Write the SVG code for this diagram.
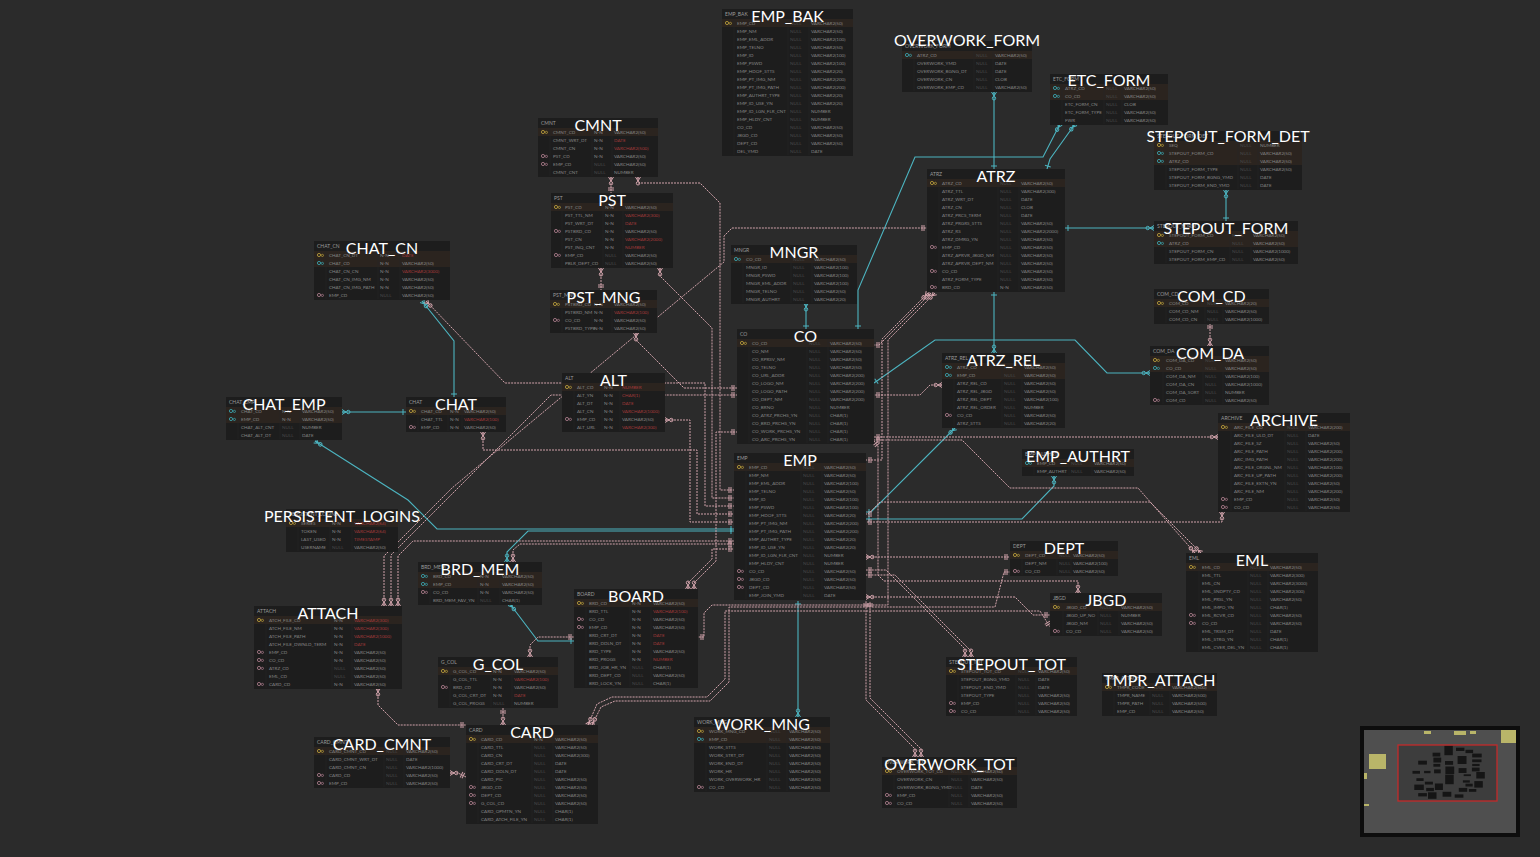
<svg xmlns="http://www.w3.org/2000/svg" width="1540" height="857" viewBox="0 0 1540 857">
<style>
.bg{fill:#1d1d1d}
.pk{fill:#2b241f}
.sep{stroke:#262626;stroke-width:.7;fill:none}
.hd{font:5px Lato,"Noto Sans",sans-serif;fill:#9a9a9a}
.c{font:4.6px Lato,"Noto Sans",sans-serif;fill:#868686}
.nl{fill:#484848}
.rd{fill:#a33a3a}
.ttl{font:16px Lato,"Noto Sans",sans-serif;fill:#ffffff;text-anchor:middle}
.ky{color:#b3983a}.kf{color:#a47786}.kt{color:#3a9fa8}
.p{fill:none;stroke:#d0a2aa;stroke-width:1;stroke-dasharray:2 1;marker-start:url(#cp);marker-end:url(#bp)}
.t{fill:none;stroke:#4cb4c0;stroke-width:1.1;marker-start:url(#ct);marker-end:url(#bt)}
.mm{fill:#151515}
</style>
<defs>
<symbol id="k" viewBox="0 0 9 8"><circle cx="3" cy="4" r="1.6" fill="none" stroke="currentColor" stroke-width=".9"/><circle cx="6.4" cy="4.4" r="1.1" fill="none" stroke="currentColor" stroke-width=".8"/></symbol>
<marker id="bp" viewBox="-8 -5 10 10" refX="0" refY="0" markerWidth="10" markerHeight="10" markerUnits="userSpaceOnUse" orient="auto"><path d="M-3,-3V3M-5,-3V3" stroke="#d0a2aa" stroke-width="1" fill="none"/></marker>
<marker id="cp" viewBox="-10 -5 12 10" refX="0" refY="0" markerWidth="12" markerHeight="10" markerUnits="userSpaceOnUse" orient="auto-start-reverse"><path d="M-4,0L0,-2.5M-4,0L0,2.5M-4,0H0" stroke="#d0a2aa" stroke-width="1" fill="none"/><circle cx="-6.3" cy="0" r="1.7" stroke="#d0a2aa" stroke-width="1" fill="none"/></marker>
<marker id="bt" viewBox="-8 -5 10 10" refX="0" refY="0" markerWidth="10" markerHeight="10" markerUnits="userSpaceOnUse" orient="auto"><path d="M-3,-3V3" stroke="#4cb4c0" stroke-width="1" fill="none"/></marker>
<marker id="ct" viewBox="-10 -5 12 10" refX="0" refY="0" markerWidth="12" markerHeight="10" markerUnits="userSpaceOnUse" orient="auto-start-reverse"><path d="M-4,0L0,-2.5M-4,0L0,2.5M-4,0H0" stroke="#4cb4c0" stroke-width="1" fill="none"/><circle cx="-6.3" cy="0" r="1.7" stroke="#4cb4c0" stroke-width="1" fill="none"/></marker>
</defs>
<rect width="1540" height="857" fill="#2b2b2b"/>

<g id="connectors">
<path class="t" d="M422,301L454,341V397"/>
<path class="t" d="M342,412H406"/>
<path class="t" d="M315,441L408,500L437,529H734"/>
<path class="t" d="M510,604L538,641H574"/>
<path class="t" d="M798,717V601"/>
<path class="t" d="M806,303V329"/>
<path class="t" d="M1075,124L1050,159L1047,169"/>
<path class="t" d="M1060,124L1043,157H915L858,290V329"/>
<path class="t" d="M994,92V169"/>
<path class="t" d="M1154,228H1065"/>
<path class="t" d="M1226,190V221"/>
<path class="t" d="M994,353V292"/>
<path class="t" d="M1150,373H1107L1075,340H935L874,383"/>
<path class="t" d="M955,428L871,512H866"/>
<path class="t" d="M1054,476V486L1022,519H866"/>
<path class="t" d="M507,562V552L528,531H734"/>
<path class="p" d="M611,177V193"/>
<path class="p" d="M638,177V183H700L720,203V490H734"/>
<path class="p" d="M660,268V276L712,328V498H734"/>
<path class="p" d="M601,268V290"/>
<path class="p" d="M636,333V340L684,388H737"/>
<path class="p" d="M426,301L505,383H705V506H734"/>
<path class="p" d="M483,432V450H697V514H734"/>
<path class="p" d="M665,420H690V522H734"/>
<path class="p" d="M398,606V556L413,541H734"/>
<path class="p" d="M391,606V555L453,493L551,395H737"/>
<path class="p" d="M384,606V556L452,488L724,262V236L732,228H927"/>
<path class="p" d="M378,688V705L398,725H466"/>
<path class="p" d="M513,562V550L520,544H734"/>
<path class="p" d="M530,657V645L538,637H574"/>
<path class="p" d="M503,725V708"/>
<path class="p" d="M450,773H458L466,777"/>
<path class="p" d="M588,725L597,704L612,697H707L725,679V611H1040L1050,627"/>
<path class="p" d="M592,725L601,707L615,701H710L729,682V607H995L1004,572H1010"/>
<path class="p" d="M866,557H1010"/>
<path class="p" d="M866,597H1015L1033,615H1050"/>
<path class="p" d="M1078,593V581H884L878,575V446L874,441"/>
<path class="p" d="M1218,437H874"/>
<path class="p" d="M1195,553L1138,488H1010L962,440H874"/>
<path class="p" d="M1222,512V522H866"/>
<path class="p" d="M1201,553L1150,502H880L868,514H866"/>
<path class="p" d="M942,385H930L920,395H874"/>
<path class="p" d="M931,293L879,345H874"/>
<path class="p" d="M928,293L882,339V460H866"/>
<path class="p" d="M935,293L888,340V605H712L704,613V637H698"/>
<path class="p" d="M965,657V649L886,570H866"/>
<path class="p" d="M971,657V651L895,575H866"/>
<path class="p" d="M915,757V749L866,700V601"/>
<path class="p" d="M921,757V749L870,698V601"/>
<path class="p" d="M1210,346V323"/>
<path class="p" d="M688,589V583L712,559V549H734"/>
<path class="p" d="M694,589V583L716,561V432H737"/>
</g>

<g id="EMP_BAK" transform="translate(722,9)">
<rect class="bg" width="131" height="147"/><rect class="pk" y="10" width="131" height="8"/>
<path class="sep" d="M12 10V146M66 10V146M87 10V146"/>
<text class="hd" x="3" y="7">EMP_BAK</text>
<use href="#k" class="ky" x="2" y="10" width="9" height="8"/>
<text class="c" x="15" y="16">EMP_CD<tspan x="15" dy="8">EMP_NM</tspan><tspan x="15" dy="8">EMP_EML_ADDR</tspan><tspan x="15" dy="8">EMP_TELNO</tspan><tspan x="15" dy="8">EMP_ID</tspan><tspan x="15" dy="8">EMP_PSWD</tspan><tspan x="15" dy="8">EMP_HDOF_STTS</tspan><tspan x="15" dy="8">EMP_PT_IMG_NM</tspan><tspan x="15" dy="8">EMP_PT_IMG_PATH</tspan><tspan x="15" dy="8">EMP_AUTHRT_TYPE</tspan><tspan x="15" dy="8">EMP_ID_USE_YN</tspan><tspan x="15" dy="8">EMP_ID_LGN_FLR_CNT</tspan><tspan x="15" dy="8">EMP_HLDY_CNT</tspan><tspan x="15" dy="8">CO_CD</tspan><tspan x="15" dy="8">JBGD_CD</tspan><tspan x="15" dy="8">DEPT_CD</tspan><tspan x="15" dy="8">DEL_YMD</tspan></text>
<text class="c nl" x="68" y="16">NULL<tspan x="68" dy="8">NULL</tspan><tspan x="68" dy="8">NULL</tspan><tspan x="68" dy="8">NULL</tspan><tspan x="68" dy="8">NULL</tspan><tspan x="68" dy="8">NULL</tspan><tspan x="68" dy="8">NULL</tspan><tspan x="68" dy="8">NULL</tspan><tspan x="68" dy="8">NULL</tspan><tspan x="68" dy="8">NULL</tspan><tspan x="68" dy="8">NULL</tspan><tspan x="68" dy="8">NULL</tspan><tspan x="68" dy="8">NULL</tspan><tspan x="68" dy="8">NULL</tspan><tspan x="68" dy="8">NULL</tspan><tspan x="68" dy="8">NULL</tspan><tspan x="68" dy="8">NULL</tspan></text>
<text class="c" x="89" y="16">VARCHAR2(50)<tspan x="89" dy="8">VARCHAR2(50)</tspan><tspan x="89" dy="8">VARCHAR2(100)</tspan><tspan x="89" dy="8">VARCHAR2(50)</tspan><tspan x="89" dy="8">VARCHAR2(100)</tspan><tspan x="89" dy="8">VARCHAR2(100)</tspan><tspan x="89" dy="8">VARCHAR2(20)</tspan><tspan x="89" dy="8">VARCHAR2(200)</tspan><tspan x="89" dy="8">VARCHAR2(200)</tspan><tspan x="89" dy="8">VARCHAR2(20)</tspan><tspan x="89" dy="8">VARCHAR2(20)</tspan><tspan x="89" dy="8">NUMBER</tspan><tspan x="89" dy="8">NUMBER</tspan><tspan x="89" dy="8">VARCHAR2(50)</tspan><tspan x="89" dy="8">VARCHAR2(50)</tspan><tspan x="89" dy="8">VARCHAR2(50)</tspan><tspan x="89" dy="8">DATE</tspan></text>
<text class="ttl" x="65.5" y="13">EMP_BAK</text>
</g>

<g id="EMP" transform="translate(734,453)">
<rect class="bg" width="132" height="147"/><rect class="pk" y="10" width="132" height="8"/>
<path class="sep" d="M12 10V146M67 10V146M88 10V146"/>
<text class="hd" x="3" y="7">EMP</text>
<use href="#k" class="ky" x="2" y="10" width="9" height="8"/>
<use href="#k" class="kf" x="2" y="114" width="9" height="8"/>
<use href="#k" class="kf" x="2" y="122" width="9" height="8"/>
<use href="#k" class="kf" x="2" y="130" width="9" height="8"/>
<text class="c" x="15" y="16">EMP_CD<tspan x="15" dy="8">EMP_NM</tspan><tspan x="15" dy="8">EMP_EML_ADDR</tspan><tspan x="15" dy="8">EMP_TELNO</tspan><tspan x="15" dy="8">EMP_ID</tspan><tspan x="15" dy="8">EMP_PSWD</tspan><tspan x="15" dy="8">EMP_HDOF_STTS</tspan><tspan x="15" dy="8">EMP_PT_IMG_NM</tspan><tspan x="15" dy="8">EMP_PT_IMG_PATH</tspan><tspan x="15" dy="8">EMP_AUTHRT_TYPE</tspan><tspan x="15" dy="8">EMP_ID_USE_YN</tspan><tspan x="15" dy="8">EMP_ID_LGN_FLR_CNT</tspan><tspan x="15" dy="8">EMP_HLDY_CNT</tspan><tspan x="15" dy="8">CO_CD</tspan><tspan x="15" dy="8">JBGD_CD</tspan><tspan x="15" dy="8">DEPT_CD</tspan><tspan x="15" dy="8">EMP_JOIN_YMD</tspan></text>
<text class="c nl" x="69" y="16">NULL<tspan x="69" dy="8">NULL</tspan><tspan x="69" dy="8">NULL</tspan><tspan x="69" dy="8">NULL</tspan><tspan x="69" dy="8">NULL</tspan><tspan x="69" dy="8">NULL</tspan><tspan x="69" dy="8">NULL</tspan><tspan x="69" dy="8">NULL</tspan><tspan x="69" dy="8">NULL</tspan><tspan x="69" dy="8">NULL</tspan><tspan x="69" dy="8">NULL</tspan><tspan x="69" dy="8">NULL</tspan><tspan x="69" dy="8">NULL</tspan><tspan x="69" dy="8">NULL</tspan><tspan x="69" dy="8">NULL</tspan><tspan x="69" dy="8">NULL</tspan><tspan x="69" dy="8">NULL</tspan></text>
<text class="c" x="90" y="16">VARCHAR2(50)<tspan x="90" dy="8">VARCHAR2(50)</tspan><tspan x="90" dy="8">VARCHAR2(100)</tspan><tspan x="90" dy="8">VARCHAR2(50)</tspan><tspan x="90" dy="8">VARCHAR2(100)</tspan><tspan x="90" dy="8">VARCHAR2(100)</tspan><tspan x="90" dy="8">VARCHAR2(20)</tspan><tspan x="90" dy="8">VARCHAR2(200)</tspan><tspan x="90" dy="8">VARCHAR2(200)</tspan><tspan x="90" dy="8">VARCHAR2(20)</tspan><tspan x="90" dy="8">VARCHAR2(20)</tspan><tspan x="90" dy="8">NUMBER</tspan><tspan x="90" dy="8">NUMBER</tspan><tspan x="90" dy="8">VARCHAR2(50)</tspan><tspan x="90" dy="8">VARCHAR2(50)</tspan><tspan x="90" dy="8">VARCHAR2(50)</tspan><tspan x="90" dy="8">DATE</tspan></text>
<text class="ttl" x="66" y="13">EMP</text>
</g>

<g id="CO" transform="translate(737,329)">
<rect class="bg" width="137" height="115"/><rect class="pk" y="10" width="137" height="8"/>
<path class="sep" d="M12 10V114M70 10V114M91 10V114"/>
<text class="hd" x="3" y="7">CO</text>
<use href="#k" class="ky" x="2" y="10" width="9" height="8"/>
<text class="c" x="15" y="16">CO_CD<tspan x="15" dy="8">CO_NM</tspan><tspan x="15" dy="8">CO_RPRSV_NM</tspan><tspan x="15" dy="8">CO_TELNO</tspan><tspan x="15" dy="8">CO_URL_ADDR</tspan><tspan x="15" dy="8">CO_LOGO_NM</tspan><tspan x="15" dy="8">CO_LOGO_PATH</tspan><tspan x="15" dy="8">CO_DEPT_NM</tspan><tspan x="15" dy="8">CO_BRNO</tspan><tspan x="15" dy="8">CO_ATRZ_PRCHS_YN</tspan><tspan x="15" dy="8">CO_BRD_PRCHS_YN</tspan><tspan x="15" dy="8">CO_WORK_PRCHS_YN</tspan><tspan x="15" dy="8">CO_ARC_PRCHS_YN</tspan></text>
<text class="c nl" x="72" y="16">NULL<tspan x="72" dy="8">NULL</tspan><tspan x="72" dy="8">NULL</tspan><tspan x="72" dy="8">NULL</tspan><tspan x="72" dy="8">NULL</tspan><tspan x="72" dy="8">NULL</tspan><tspan x="72" dy="8">NULL</tspan><tspan x="72" dy="8">NULL</tspan><tspan x="72" dy="8">NULL</tspan><tspan x="72" dy="8">NULL</tspan><tspan x="72" dy="8">NULL</tspan><tspan x="72" dy="8">NULL</tspan><tspan x="72" dy="8">NULL</tspan></text>
<text class="c" x="93" y="16">VARCHAR2(50)<tspan x="93" dy="8">VARCHAR2(50)</tspan><tspan x="93" dy="8">VARCHAR2(50)</tspan><tspan x="93" dy="8">VARCHAR2(50)</tspan><tspan x="93" dy="8">VARCHAR2(200)</tspan><tspan x="93" dy="8">VARCHAR2(200)</tspan><tspan x="93" dy="8">VARCHAR2(200)</tspan><tspan x="93" dy="8">VARCHAR2(200)</tspan><tspan x="93" dy="8">NUMBER</tspan><tspan x="93" dy="8">CHAR(1)</tspan><tspan x="93" dy="8">CHAR(1)</tspan><tspan x="93" dy="8">CHAR(1)</tspan><tspan x="93" dy="8">CHAR(1)</tspan></text>
<text class="ttl" x="68.5" y="13">CO</text>
</g>

<g id="MNGR" transform="translate(731,245)">
<rect class="bg" width="126" height="59"/><rect class="pk" y="10" width="126" height="8"/>
<path class="sep" d="M12 10V58M60 10V58M81 10V58"/>
<text class="hd" x="3" y="7">MNGR</text>
<use href="#k" class="kt" x="2" y="10" width="9" height="8"/>
<text class="c" x="15" y="16">CO_CD<tspan x="15" dy="8">MNGR_ID</tspan><tspan x="15" dy="8">MNGR_PSWD</tspan><tspan x="15" dy="8">MNGR_EML_ADDR</tspan><tspan x="15" dy="8">MNGR_TELNO</tspan><tspan x="15" dy="8">MNGR_AUTHRT</tspan></text>
<text class="c nl" x="62" y="16">NULL<tspan x="62" dy="8">NULL</tspan><tspan x="62" dy="8">NULL</tspan><tspan x="62" dy="8">NULL</tspan><tspan x="62" dy="8">NULL</tspan><tspan x="62" dy="8">NULL</tspan></text>
<text class="c" x="83" y="16">VARCHAR2(50)<tspan x="83" dy="8">VARCHAR2(100)</tspan><tspan x="83" dy="8">VARCHAR2(100)</tspan><tspan x="83" dy="8">VARCHAR2(100)</tspan><tspan x="83" dy="8">VARCHAR2(50)</tspan><tspan x="83" dy="8">VARCHAR2(20)</tspan></text>
<text class="ttl" x="63" y="13">MNGR</text>
</g>

<g id="ATRZ" transform="translate(927,169)">
<rect class="bg" width="138" height="123"/><rect class="pk" y="10" width="138" height="8"/>
<path class="sep" d="M12 10V122M71 10V122M92 10V122"/>
<text class="hd" x="3" y="7">ATRZ</text>
<use href="#k" class="ky" x="2" y="10" width="9" height="8"/>
<use href="#k" class="kf" x="2" y="74" width="9" height="8"/>
<use href="#k" class="kf" x="2" y="98" width="9" height="8"/>
<use href="#k" class="kf" x="2" y="114" width="9" height="8"/>
<text class="c" x="15" y="16">ATRZ_CD<tspan x="15" dy="8">ATRZ_TTL</tspan><tspan x="15" dy="8">ATRZ_WRT_DT</tspan><tspan x="15" dy="8">ATRZ_CN</tspan><tspan x="15" dy="8">ATRZ_PRCS_TERM</tspan><tspan x="15" dy="8">ATRZ_PRGRS_STTS</tspan><tspan x="15" dy="8">ATRZ_RS</tspan><tspan x="15" dy="8">ATRZ_DMRG_YN</tspan><tspan x="15" dy="8">EMP_CD</tspan><tspan x="15" dy="8">ATRZ_APRVR_JBGD_NM</tspan><tspan x="15" dy="8">ATRZ_APRVR_DEPT_NM</tspan><tspan x="15" dy="8">CO_CD</tspan><tspan x="15" dy="8">ATRZ_FORM_TYPE</tspan><tspan x="15" dy="8">BRD_CD</tspan></text>
<text class="c nl" x="73" y="16">NULL<tspan x="73" dy="8">NULL</tspan><tspan x="73" dy="8">NULL</tspan><tspan x="73" dy="8">NULL</tspan><tspan x="73" dy="8">NULL</tspan><tspan x="73" dy="8">NULL</tspan><tspan x="73" dy="8">NULL</tspan><tspan x="73" dy="8">NULL</tspan><tspan x="73" dy="8">NULL</tspan><tspan x="73" dy="8">NULL</tspan><tspan x="73" dy="8">NULL</tspan><tspan x="73" dy="8">NULL</tspan><tspan x="73" dy="8">NULL</tspan><tspan x="73" dy="8" class="c">N-N</tspan></text>
<text class="c" x="94" y="16">VARCHAR2(50)<tspan x="94" dy="8">VARCHAR2(300)</tspan><tspan x="94" dy="8">DATE</tspan><tspan x="94" dy="8">CLOB</tspan><tspan x="94" dy="8">DATE</tspan><tspan x="94" dy="8">VARCHAR2(50)</tspan><tspan x="94" dy="8">VARCHAR2(2000)</tspan><tspan x="94" dy="8">VARCHAR2(50)</tspan><tspan x="94" dy="8">VARCHAR2(50)</tspan><tspan x="94" dy="8">VARCHAR2(50)</tspan><tspan x="94" dy="8">VARCHAR2(50)</tspan><tspan x="94" dy="8">VARCHAR2(50)</tspan><tspan x="94" dy="8">VARCHAR2(50)</tspan><tspan x="94" dy="8">VARCHAR2(50)</tspan></text>
<text class="ttl" x="69" y="13">ATRZ</text>
</g>

<g id="ATRZ_REL" transform="translate(942,353)">
<rect class="bg" width="123" height="75"/><rect class="pk" y="10" width="123" height="16"/>
<path class="sep" d="M12 10V74M60 10V74M80 10V74"/>
<text class="hd" x="3" y="7">ATRZ_REL</text>
<use href="#k" class="kt" x="2" y="10" width="9" height="8"/>
<use href="#k" class="kt" x="2" y="18" width="9" height="8"/>
<use href="#k" class="kf" x="2" y="58" width="9" height="8"/>
<text class="c" x="15" y="16">ATRZ_CD<tspan x="15" dy="8">EMP_CD</tspan><tspan x="15" dy="8">ATRZ_REL_CD</tspan><tspan x="15" dy="8">ATRZ_REL_JBGD</tspan><tspan x="15" dy="8">ATRZ_REL_DEPT</tspan><tspan x="15" dy="8">ATRZ_REL_ORDER</tspan><tspan x="15" dy="8">CO_CD</tspan><tspan x="15" dy="8">ATRZ_STTS</tspan></text>
<text class="c nl" x="62" y="16">NULL<tspan x="62" dy="8">NULL</tspan><tspan x="62" dy="8">NULL</tspan><tspan x="62" dy="8">NULL</tspan><tspan x="62" dy="8">NULL</tspan><tspan x="62" dy="8">NULL</tspan><tspan x="62" dy="8">NULL</tspan><tspan x="62" dy="8">NULL</tspan></text>
<text class="c" x="82" y="16">VARCHAR2(50)<tspan x="82" dy="8">VARCHAR2(50)</tspan><tspan x="82" dy="8">VARCHAR2(50)</tspan><tspan x="82" dy="8">VARCHAR2(50)</tspan><tspan x="82" dy="8">VARCHAR2(100)</tspan><tspan x="82" dy="8">NUMBER</tspan><tspan x="82" dy="8">VARCHAR2(50)</tspan><tspan x="82" dy="8">VARCHAR2(20)</tspan></text>
<text class="ttl" x="61.5" y="13">ATRZ_REL</text>
</g>

<g id="EMP_AUTHRT" transform="translate(1022,449)">
<rect class="bg" width="112" height="27"/><rect class="pk" y="10" width="112" height="8"/>
<path class="sep" d="M12 10V26M47 10V26M70 10V26"/>
<text class="hd" x="3" y="7">EMP_AUTHRT</text>
<use href="#k" class="kt" x="2" y="10" width="9" height="8"/>
<text class="c" x="15" y="16">EMP_CD<tspan x="15" dy="8">EMP_AUTHRT</tspan></text>
<text class="c nl" x="49" y="16">NULL<tspan x="49" dy="8">NULL</tspan></text>
<text class="c" x="72" y="16">VARCHAR2(50)<tspan x="72" dy="8">VARCHAR2(50)</tspan></text>
<text class="ttl" x="56" y="13">EMP_AUTHRT</text>
</g>

<g id="OVERWORK_FORM" transform="translate(902,41)">
<rect class="bg" width="130" height="51"/><rect class="pk" y="10" width="130" height="8"/>
<path class="sep" d="M12 10V50M72 10V50M91 10V50"/>
<text class="hd" x="3" y="7">OVERWORK_FORM</text>
<use href="#k" class="kt" x="2" y="10" width="9" height="8"/>
<text class="c" x="15" y="16">ATRZ_CD<tspan x="15" dy="8">OVERWORK_YMD</tspan><tspan x="15" dy="8">OVERWORK_BGNG_DT</tspan><tspan x="15" dy="8">OVERWORK_CN</tspan><tspan x="15" dy="8">OVERWORK_EMP_CD</tspan></text>
<text class="c nl" x="74" y="16">NULL<tspan x="74" dy="8">NULL</tspan><tspan x="74" dy="8">NULL</tspan><tspan x="74" dy="8">NULL</tspan><tspan x="74" dy="8">NULL</tspan></text>
<text class="c" x="93" y="16">VARCHAR2(50)<tspan x="93" dy="8">DATE</tspan><tspan x="93" dy="8">DATE</tspan><tspan x="93" dy="8">CLOB</tspan><tspan x="93" dy="8">VARCHAR2(50)</tspan></text>
<text class="ttl" x="65" y="5">OVERWORK_FORM</text>
</g>

<g id="ETC_FORM" transform="translate(1050,74)">
<rect class="bg" width="118" height="51"/><rect class="pk" y="10" width="118" height="16"/>
<path class="sep" d="M12 10V50M54 10V50M72 10V50"/>
<text class="hd" x="3" y="7">ETC_FORM</text>
<use href="#k" class="kt" x="2" y="10" width="9" height="8"/>
<use href="#k" class="kt" x="2" y="18" width="9" height="8"/>
<text class="c" x="15" y="16">ATRZ_CD<tspan x="15" dy="8">CO_CD</tspan><tspan x="15" dy="8">ETC_FORM_CN</tspan><tspan x="15" dy="8">ETC_FORM_TYPE</tspan><tspan x="15" dy="8">FWR</tspan></text>
<text class="c nl" x="56" y="16">NULL<tspan x="56" dy="8">NULL</tspan><tspan x="56" dy="8">NULL</tspan><tspan x="56" dy="8">NULL</tspan><tspan x="56" dy="8">NULL</tspan></text>
<text class="c" x="74" y="16">VARCHAR2(50)<tspan x="74" dy="8">VARCHAR2(50)</tspan><tspan x="74" dy="8">CLOB</tspan><tspan x="74" dy="8">VARCHAR2(50)</tspan><tspan x="74" dy="8">VARCHAR2(50)</tspan></text>
<text class="ttl" x="59" y="12">ETC_FORM</text>
</g>

<g id="STEPOUT_FORM_DET" transform="translate(1154,131)">
<rect class="bg" width="148" height="59"/><rect class="pk" y="10" width="148" height="24"/>
<path class="sep" d="M12 10V58M84 10V58M104 10V58"/>
<text class="hd" x="3" y="7">STEPOUT_FORM_DET</text>
<use href="#k" class="ky" x="2" y="10" width="9" height="8"/>
<use href="#k" class="kt" x="2" y="18" width="9" height="8"/>
<use href="#k" class="kt" x="2" y="26" width="9" height="8"/>
<text class="c" x="15" y="16">SEQ<tspan x="15" dy="8">STEPOUT_FORM_CD</tspan><tspan x="15" dy="8">ATRZ_CD</tspan><tspan x="15" dy="8">STEPOUT_FORM_TYPE</tspan><tspan x="15" dy="8">STEPOUT_FORM_BGNG_YMD</tspan><tspan x="15" dy="8">STEPOUT_FORM_END_YMD</tspan></text>
<text class="c nl" x="86" y="16">NULL<tspan x="86" dy="8">NULL</tspan><tspan x="86" dy="8">NULL</tspan><tspan x="86" dy="8">NULL</tspan><tspan x="86" dy="8">NULL</tspan><tspan x="86" dy="8">NULL</tspan></text>
<text class="c" x="106" y="16">NUMBER<tspan x="106" dy="8">VARCHAR2(50)</tspan><tspan x="106" dy="8">VARCHAR2(50)</tspan><tspan x="106" dy="8">VARCHAR2(50)</tspan><tspan x="106" dy="8">DATE</tspan><tspan x="106" dy="8">DATE</tspan></text>
<text class="ttl" x="74" y="11">STEPOUT_FORM_DET</text>
</g>

<g id="STEPOUT_FORM" transform="translate(1154,221)">
<rect class="bg" width="144" height="43"/><rect class="pk" y="10" width="144" height="16"/>
<path class="sep" d="M12 10V42M76 10V42M97 10V42"/>
<text class="hd" x="3" y="7">STEPOUT_FORM</text>
<use href="#k" class="ky" x="2" y="10" width="9" height="8"/>
<use href="#k" class="kt" x="2" y="18" width="9" height="8"/>
<text class="c" x="15" y="16">STEPOUT_FORM_CD<tspan x="15" dy="8">ATRZ_CD</tspan><tspan x="15" dy="8">STEPOUT_FORM_CN</tspan><tspan x="15" dy="8">STEPOUT_FORM_EMP_CD</tspan></text>
<text class="c nl" x="78" y="16">NULL<tspan x="78" dy="8">NULL</tspan><tspan x="78" dy="8">NULL</tspan><tspan x="78" dy="8">NULL</tspan></text>
<text class="c" x="99" y="16">VARCHAR2(50)<tspan x="99" dy="8">VARCHAR2(50)</tspan><tspan x="99" dy="8">VARCHAR2(1000)</tspan><tspan x="99" dy="8">VARCHAR2(50)</tspan></text>
<text class="ttl" x="72" y="13">STEPOUT_FORM</text>
</g>

<g id="COM_CD" transform="translate(1154,289)">
<rect class="bg" width="115" height="35"/><rect class="pk" y="10" width="115" height="8"/>
<path class="sep" d="M12 10V34M51 10V34M69 10V34"/>
<text class="hd" x="3" y="7">COM_CD</text>
<use href="#k" class="ky" x="2" y="10" width="9" height="8"/>
<text class="c" x="15" y="16">COM_CD<tspan x="15" dy="8">COM_CD_NM</tspan><tspan x="15" dy="8">COM_CD_CN</tspan></text>
<text class="c nl" x="53" y="16">NULL<tspan x="53" dy="8">NULL</tspan><tspan x="53" dy="8">NULL</tspan></text>
<text class="c" x="71" y="16">VARCHAR2(20)<tspan x="71" dy="8">VARCHAR2(50)</tspan><tspan x="71" dy="8">VARCHAR2(1000)</tspan></text>
<text class="ttl" x="57.5" y="13">COM_CD</text>
</g>

<g id="COM_DA" transform="translate(1150,346)">
<rect class="bg" width="119" height="59"/><rect class="pk" y="10" width="119" height="16"/>
<path class="sep" d="M13 10V58M53 10V58M73 10V58"/>
<text class="hd" x="3" y="7">COM_DA</text>
<use href="#k" class="ky" x="2" y="10" width="9" height="8"/>
<use href="#k" class="kt" x="2" y="18" width="9" height="8"/>
<use href="#k" class="kf" x="2" y="50" width="9" height="8"/>
<text class="c" x="16" y="16">COM_DA_CD<tspan x="16" dy="8">CO_CD</tspan><tspan x="16" dy="8">COM_DA_NM</tspan><tspan x="16" dy="8">COM_DA_CN</tspan><tspan x="16" dy="8">COM_DA_SORT</tspan><tspan x="16" dy="8">COM_CD</tspan></text>
<text class="c nl" x="55" y="16">NULL<tspan x="55" dy="8">NULL</tspan><tspan x="55" dy="8">NULL</tspan><tspan x="55" dy="8">NULL</tspan><tspan x="55" dy="8">NULL</tspan><tspan x="55" dy="8">NULL</tspan></text>
<text class="c" x="75" y="16">VARCHAR2(50)<tspan x="75" dy="8">VARCHAR2(50)</tspan><tspan x="75" dy="8">VARCHAR2(100)</tspan><tspan x="75" dy="8">VARCHAR2(1000)</tspan><tspan x="75" dy="8">NUMBER</tspan><tspan x="75" dy="8">VARCHAR2(50)</tspan></text>
<text class="ttl" x="60" y="13">COM_DA</text>
</g>

<g id="ARCHIVE" transform="translate(1218,413)">
<rect class="bg" width="132" height="99"/><rect class="pk" y="10" width="132" height="8"/>
<path class="sep" d="M13 10V98M67 10V98M88 10V98"/>
<text class="hd" x="3" y="7">ARCHIVE</text>
<use href="#k" class="ky" x="2" y="10" width="9" height="8"/>
<use href="#k" class="kf" x="2" y="82" width="9" height="8"/>
<use href="#k" class="kf" x="2" y="90" width="9" height="8"/>
<text class="c" x="16" y="16">ARC_FILE_CD<tspan x="16" dy="8">ARC_FILE_ULD_DT</tspan><tspan x="16" dy="8">ARC_FILE_SZ</tspan><tspan x="16" dy="8">ARC_FILE_PATH</tspan><tspan x="16" dy="8">ARC_IMG_PATH</tspan><tspan x="16" dy="8">ARC_FILE_ORGNL_NM</tspan><tspan x="16" dy="8">ARC_FILE_UP_PATH</tspan><tspan x="16" dy="8">ARC_FILE_EXTN_YN</tspan><tspan x="16" dy="8">ARC_FILE_NM</tspan><tspan x="16" dy="8">EMP_CD</tspan><tspan x="16" dy="8">CO_CD</tspan></text>
<text class="c nl" x="69" y="16">NULL<tspan x="69" dy="8">NULL</tspan><tspan x="69" dy="8">NULL</tspan><tspan x="69" dy="8">NULL</tspan><tspan x="69" dy="8">NULL</tspan><tspan x="69" dy="8">NULL</tspan><tspan x="69" dy="8">NULL</tspan><tspan x="69" dy="8">NULL</tspan><tspan x="69" dy="8">NULL</tspan><tspan x="69" dy="8">NULL</tspan><tspan x="69" dy="8">NULL</tspan></text>
<text class="c" x="90" y="16">VARCHAR2(200)<tspan x="90" dy="8">DATE</tspan><tspan x="90" dy="8">VARCHAR2(50)</tspan><tspan x="90" dy="8">VARCHAR2(200)</tspan><tspan x="90" dy="8">VARCHAR2(200)</tspan><tspan x="90" dy="8">VARCHAR2(100)</tspan><tspan x="90" dy="8">VARCHAR2(200)</tspan><tspan x="90" dy="8">VARCHAR2(50)</tspan><tspan x="90" dy="8">VARCHAR2(200)</tspan><tspan x="90" dy="8">VARCHAR2(50)</tspan><tspan x="90" dy="8">VARCHAR2(50)</tspan></text>
<text class="ttl" x="66" y="13">ARCHIVE</text>
</g>

<g id="EML" transform="translate(1186,553)">
<rect class="bg" width="132" height="99"/><rect class="pk" y="10" width="132" height="8"/>
<path class="sep" d="M13 10V98M62 10V98M82 10V98"/>
<text class="hd" x="3" y="7">EML</text>
<use href="#k" class="ky" x="2" y="10" width="9" height="8"/>
<use href="#k" class="kf" x="2" y="58" width="9" height="8"/>
<use href="#k" class="kf" x="2" y="66" width="9" height="8"/>
<text class="c" x="16" y="16">EML_CD<tspan x="16" dy="8">EML_TTL</tspan><tspan x="16" dy="8">EML_CN</tspan><tspan x="16" dy="8">EML_SNDPTY_CD</tspan><tspan x="16" dy="8">EML_PRSL_YN</tspan><tspan x="16" dy="8">EML_IMPO_YN</tspan><tspan x="16" dy="8">EML_RCVR_CD</tspan><tspan x="16" dy="8">CO_CD</tspan><tspan x="16" dy="8">EML_TRSM_DT</tspan><tspan x="16" dy="8">EML_STRG_YN</tspan><tspan x="16" dy="8">EML_CVER_DEL_YN</tspan></text>
<text class="c nl" x="64" y="16">NULL<tspan x="64" dy="8">NULL</tspan><tspan x="64" dy="8">NULL</tspan><tspan x="64" dy="8">NULL</tspan><tspan x="64" dy="8">NULL</tspan><tspan x="64" dy="8">NULL</tspan><tspan x="64" dy="8">NULL</tspan><tspan x="64" dy="8">NULL</tspan><tspan x="64" dy="8">NULL</tspan><tspan x="64" dy="8">NULL</tspan><tspan x="64" dy="8">NULL</tspan></text>
<text class="c" x="84" y="16">VARCHAR2(50)<tspan x="84" dy="8">VARCHAR2(300)</tspan><tspan x="84" dy="8">VARCHAR2(3000)</tspan><tspan x="84" dy="8">VARCHAR2(300)</tspan><tspan x="84" dy="8">VARCHAR2(50)</tspan><tspan x="84" dy="8">CHAR(1)</tspan><tspan x="84" dy="8">VARCHAR2(50)</tspan><tspan x="84" dy="8">VARCHAR2(50)</tspan><tspan x="84" dy="8">DATE</tspan><tspan x="84" dy="8">CHAR(1)</tspan><tspan x="84" dy="8">CHAR(1)</tspan></text>
<text class="ttl" x="66" y="13">EML</text>
</g>

<g id="DEPT" transform="translate(1010,541)">
<rect class="bg" width="108" height="35"/><rect class="pk" y="10" width="108" height="8"/>
<path class="sep" d="M12 10V34M47 10V34M61 10V34"/>
<text class="hd" x="3" y="7">DEPT</text>
<use href="#k" class="ky" x="2" y="10" width="9" height="8"/>
<use href="#k" class="kf" x="2" y="26" width="9" height="8"/>
<text class="c" x="15" y="16">DEPT_CD<tspan x="15" dy="8">DEPT_NM</tspan><tspan x="15" dy="8">CO_CD</tspan></text>
<text class="c nl" x="49" y="16">NULL<tspan x="49" dy="8">NULL</tspan><tspan x="49" dy="8">NULL</tspan></text>
<text class="c" x="63" y="16">VARCHAR2(50)<tspan x="63" dy="8">VARCHAR2(100)</tspan><tspan x="63" dy="8">VARCHAR2(50)</tspan></text>
<text class="ttl" x="54" y="13">DEPT</text>
</g>

<g id="JBGD" transform="translate(1050,593)">
<rect class="bg" width="112" height="43"/><rect class="pk" y="10" width="112" height="8"/>
<path class="sep" d="M13 10V42M48 10V42M69 10V42"/>
<text class="hd" x="3" y="7">JBGD</text>
<use href="#k" class="ky" x="2" y="10" width="9" height="8"/>
<use href="#k" class="kf" x="2" y="34" width="9" height="8"/>
<text class="c" x="16" y="16">JBGD_CD<tspan x="16" dy="8">JBGD_UP_NO</tspan><tspan x="16" dy="8">JBGD_NM</tspan><tspan x="16" dy="8">CO_CD</tspan></text>
<text class="c nl" x="50" y="16">NULL<tspan x="50" dy="8">NULL</tspan><tspan x="50" dy="8">NULL</tspan><tspan x="50" dy="8">NULL</tspan></text>
<text class="c" x="71" y="16">VARCHAR2(50)<tspan x="71" dy="8">NUMBER</tspan><tspan x="71" dy="8">VARCHAR2(50)</tspan><tspan x="71" dy="8">VARCHAR2(50)</tspan></text>
<text class="ttl" x="56" y="13">JBGD</text>
</g>

<g id="TMPR_ATTACH" transform="translate(1102,673)">
<rect class="bg" width="115" height="43"/><rect class="pk" y="10" width="115" height="8"/>
<path class="sep" d="M12 10V42M48 10V42M68 10V42"/>
<text class="hd" x="3" y="7">TMPR_ATTACH</text>
<use href="#k" class="ky" x="2" y="10" width="9" height="8"/>
<text class="c" x="15" y="16">TMPR_CODE<tspan x="15" dy="8">TMPR_NAME</tspan><tspan x="15" dy="8">TMPR_PATH</tspan><tspan x="15" dy="8">EMP_CD</tspan></text>
<text class="c nl" x="50" y="16">NULL<tspan x="50" dy="8">NULL</tspan><tspan x="50" dy="8">NULL</tspan><tspan x="50" dy="8">NULL</tspan></text>
<text class="c" x="70" y="16">VARCHAR2(500)<tspan x="70" dy="8">VARCHAR2(500)</tspan><tspan x="70" dy="8">VARCHAR2(500)</tspan><tspan x="70" dy="8">VARCHAR2(50)</tspan></text>
<text class="ttl" x="57.5" y="13">TMPR_ATTACH</text>
</g>

<g id="STEPOUT_TOT" transform="translate(946,657)">
<rect class="bg" width="131" height="59"/><rect class="pk" y="10" width="131" height="8"/>
<path class="sep" d="M12 10V58M70 10V58M90 10V58"/>
<text class="hd" x="3" y="7">STEPOUT_TOT</text>
<use href="#k" class="ky" x="2" y="10" width="9" height="8"/>
<use href="#k" class="kf" x="2" y="42" width="9" height="8"/>
<use href="#k" class="kf" x="2" y="50" width="9" height="8"/>
<text class="c" x="15" y="16">STEPOUT_TOT_CD<tspan x="15" dy="8">STEPOUT_BGNG_YMD</tspan><tspan x="15" dy="8">STEPOUT_END_YMD</tspan><tspan x="15" dy="8">STEPOUT_TYPE</tspan><tspan x="15" dy="8">EMP_CD</tspan><tspan x="15" dy="8">CO_CD</tspan></text>
<text class="c nl" x="72" y="16">NULL<tspan x="72" dy="8">NULL</tspan><tspan x="72" dy="8">NULL</tspan><tspan x="72" dy="8">NULL</tspan><tspan x="72" dy="8">NULL</tspan><tspan x="72" dy="8">NULL</tspan></text>
<text class="c" x="92" y="16">VARCHAR2(50)<tspan x="92" dy="8">DATE</tspan><tspan x="92" dy="8">DATE</tspan><tspan x="92" dy="8">VARCHAR2(50)</tspan><tspan x="92" dy="8">VARCHAR2(50)</tspan><tspan x="92" dy="8">VARCHAR2(50)</tspan></text>
<text class="ttl" x="65.5" y="13">STEPOUT_TOT</text>
</g>

<g id="OVERWORK_TOT" transform="translate(882,757)">
<rect class="bg" width="135" height="51"/><rect class="pk" y="10" width="135" height="8"/>
<path class="sep" d="M12 10V50M67 10V50M87 10V50"/>
<text class="hd" x="3" y="7">OVERWORK_TOT</text>
<use href="#k" class="ky" x="2" y="10" width="9" height="8"/>
<use href="#k" class="kf" x="2" y="34" width="9" height="8"/>
<use href="#k" class="kf" x="2" y="42" width="9" height="8"/>
<text class="c" x="15" y="16">OVERWORK_TOT_CD<tspan x="15" dy="8">OVERWORK_CN</tspan><tspan x="15" dy="8">OVERWORK_BGNG_YMD</tspan><tspan x="15" dy="8">EMP_CD</tspan><tspan x="15" dy="8">CO_CD</tspan></text>
<text class="c nl" x="69" y="16">NULL<tspan x="69" dy="8">NULL</tspan><tspan x="69" dy="8">NULL</tspan><tspan x="69" dy="8">NULL</tspan><tspan x="69" dy="8">NULL</tspan></text>
<text class="c" x="89" y="16">VARCHAR2(50)<tspan x="89" dy="8">VARCHAR2(50)</tspan><tspan x="89" dy="8">DATE</tspan><tspan x="89" dy="8">VARCHAR2(50)</tspan><tspan x="89" dy="8">VARCHAR2(50)</tspan></text>
<text class="ttl" x="67.5" y="13">OVERWORK_TOT</text>
</g>

<g id="WORK_MNG" transform="translate(694,717)">
<rect class="bg" width="136" height="75"/><rect class="pk" y="10" width="136" height="16"/>
<path class="sep" d="M12 10V74M73 10V74M93 10V74"/>
<text class="hd" x="3" y="7">WORK_MNG</text>
<use href="#k" class="ky" x="2" y="10" width="9" height="8"/>
<use href="#k" class="kt" x="2" y="18" width="9" height="8"/>
<use href="#k" class="kf" x="2" y="66" width="9" height="8"/>
<text class="c" x="15" y="16">WORK_MNG_CD<tspan x="15" dy="8">EMP_CD</tspan><tspan x="15" dy="8">WORK_STTS</tspan><tspan x="15" dy="8">WORK_STRT_DT</tspan><tspan x="15" dy="8">WORK_END_DT</tspan><tspan x="15" dy="8">WORK_HR</tspan><tspan x="15" dy="8">WORK_OVERWORK_HR</tspan><tspan x="15" dy="8">CO_CD</tspan></text>
<text class="c nl" x="75" y="16">NULL<tspan x="75" dy="8">NULL</tspan><tspan x="75" dy="8">NULL</tspan><tspan x="75" dy="8">NULL</tspan><tspan x="75" dy="8">NULL</tspan><tspan x="75" dy="8">NULL</tspan><tspan x="75" dy="8">NULL</tspan><tspan x="75" dy="8">NULL</tspan></text>
<text class="c" x="95" y="16">VARCHAR2(50)<tspan x="95" dy="8">VARCHAR2(50)</tspan><tspan x="95" dy="8">VARCHAR2(50)</tspan><tspan x="95" dy="8">VARCHAR2(50)</tspan><tspan x="95" dy="8">VARCHAR2(50)</tspan><tspan x="95" dy="8">VARCHAR2(50)</tspan><tspan x="95" dy="8">VARCHAR2(50)</tspan><tspan x="95" dy="8">VARCHAR2(50)</tspan></text>
<text class="ttl" x="68" y="13">WORK_MNG</text>
</g>

<g id="CARD" transform="translate(466,725)">
<rect class="bg" width="132" height="99"/><rect class="pk" y="10" width="132" height="8"/>
<path class="sep" d="M12 10V98M66 10V98M87 10V98"/>
<text class="hd" x="3" y="7">CARD</text>
<use href="#k" class="ky" x="2" y="10" width="9" height="8"/>
<use href="#k" class="kf" x="2" y="58" width="9" height="8"/>
<use href="#k" class="kf" x="2" y="66" width="9" height="8"/>
<use href="#k" class="kf" x="2" y="74" width="9" height="8"/>
<text class="c" x="15" y="16">CARD_CD<tspan x="15" dy="8">CARD_TTL</tspan><tspan x="15" dy="8">CARD_CN</tspan><tspan x="15" dy="8">CARD_CRT_DT</tspan><tspan x="15" dy="8">CARD_DDLN_DT</tspan><tspan x="15" dy="8">CARD_PIC</tspan><tspan x="15" dy="8">JBGD_CD</tspan><tspan x="15" dy="8">DEPT_CD</tspan><tspan x="15" dy="8">G_COL_CD</tspan><tspan x="15" dy="8">CARD_OPMTN_YN</tspan><tspan x="15" dy="8">CARD_ATCH_FILE_YN</tspan></text>
<text class="c" x="68" y="16">N-N<tspan x="68" dy="8" class="nl">NULL</tspan><tspan x="68" dy="8" class="nl">NULL</tspan><tspan x="68" dy="8" class="nl">NULL</tspan><tspan x="68" dy="8" class="nl">NULL</tspan><tspan x="68" dy="8" class="nl">NULL</tspan><tspan x="68" dy="8" class="nl">NULL</tspan><tspan x="68" dy="8" class="nl">NULL</tspan><tspan x="68" dy="8" class="nl">NULL</tspan><tspan x="68" dy="8" class="nl">NULL</tspan><tspan x="68" dy="8" class="nl">NULL</tspan></text>
<text class="c" x="89" y="16">VARCHAR2(50)<tspan x="89" dy="8">VARCHAR2(50)</tspan><tspan x="89" dy="8">VARCHAR2(300)</tspan><tspan x="89" dy="8">DATE</tspan><tspan x="89" dy="8">DATE</tspan><tspan x="89" dy="8">VARCHAR2(50)</tspan><tspan x="89" dy="8">VARCHAR2(50)</tspan><tspan x="89" dy="8">VARCHAR2(50)</tspan><tspan x="89" dy="8">VARCHAR2(50)</tspan><tspan x="89" dy="8">CHAR(1)</tspan><tspan x="89" dy="8">CHAR(1)</tspan></text>
<text class="ttl" x="66" y="13">CARD</text>
</g>

<g id="CARD_CMNT" transform="translate(314,737)">
<rect class="bg" width="136" height="51"/><rect class="pk" y="10" width="136" height="8"/>
<path class="sep" d="M12 10V50M70 10V50M90 10V50"/>
<text class="hd" x="3" y="7">CARD_CMNT</text>
<use href="#k" class="ky" x="2" y="10" width="9" height="8"/>
<use href="#k" class="kf" x="2" y="34" width="9" height="8"/>
<use href="#k" class="kf" x="2" y="42" width="9" height="8"/>
<text class="c" x="15" y="16">CARD_CMNT_CD<tspan x="15" dy="8">CARD_CMNT_WRT_DT</tspan><tspan x="15" dy="8">CARD_CMNT_CN</tspan><tspan x="15" dy="8">CARD_CD</tspan><tspan x="15" dy="8">EMP_CD</tspan></text>
<text class="c nl" x="72" y="16">NULL<tspan x="72" dy="8">NULL</tspan><tspan x="72" dy="8">NULL</tspan><tspan x="72" dy="8">NULL</tspan><tspan x="72" dy="8">NULL</tspan></text>
<text class="c" x="92" y="16">VARCHAR2(50)<tspan x="92" dy="8">DATE</tspan><tspan x="92" dy="8">VARCHAR2(1000)</tspan><tspan x="92" dy="8">VARCHAR2(50)</tspan><tspan x="92" dy="8">VARCHAR2(50)</tspan></text>
<text class="ttl" x="68" y="13">CARD_CMNT</text>
</g>

<g id="G_COL" transform="translate(438,657)">
<rect class="bg" width="120" height="51"/><rect class="pk" y="10" width="120" height="8"/>
<path class="sep" d="M12 10V50M53 10V50M74 10V50"/>
<text class="hd" x="3" y="7">G_COL</text>
<use href="#k" class="ky" x="2" y="10" width="9" height="8"/>
<use href="#k" class="kf" x="2" y="26" width="9" height="8"/>
<text class="c" x="15" y="16">G_COL_CD<tspan x="15" dy="8">G_COL_TTL</tspan><tspan x="15" dy="8">BRD_CD</tspan><tspan x="15" dy="8">G_COL_CRT_DT</tspan><tspan x="15" dy="8">G_COL_PROGS</tspan></text>
<text class="c" x="55" y="16">N-N<tspan x="55" dy="8">N-N</tspan><tspan x="55" dy="8">N-N</tspan><tspan x="55" dy="8">N-N</tspan><tspan x="55" dy="8" class="nl">NULL</tspan></text>
<text class="c" x="76" y="16">VARCHAR2(50)<tspan x="76" dy="8" class="rd">VARCHAR2(100)</tspan><tspan x="76" dy="8">VARCHAR2(50)</tspan><tspan x="76" dy="8" class="rd">DATE</tspan><tspan x="76" dy="8">NUMBER</tspan></text>
<text class="ttl" x="60" y="13">G_COL</text>
</g>

<g id="BOARD" transform="translate(574,589)">
<rect class="bg" width="124" height="99"/><rect class="pk" y="10" width="124" height="8"/>
<path class="sep" d="M12 10V98M56 10V98M77 10V98"/>
<text class="hd" x="3" y="7">BOARD</text>
<use href="#k" class="ky" x="2" y="10" width="9" height="8"/>
<use href="#k" class="kf" x="2" y="26" width="9" height="8"/>
<use href="#k" class="kf" x="2" y="34" width="9" height="8"/>
<text class="c" x="15" y="16">BRD_CD<tspan x="15" dy="8">BRD_TTL</tspan><tspan x="15" dy="8">CO_CD</tspan><tspan x="15" dy="8">EMP_CD</tspan><tspan x="15" dy="8">BRD_CRT_DT</tspan><tspan x="15" dy="8">BRD_DDLN_DT</tspan><tspan x="15" dy="8">BRD_TYPE</tspan><tspan x="15" dy="8">BRD_PROGS</tspan><tspan x="15" dy="8">BRD_JOB_HR_YN</tspan><tspan x="15" dy="8">BRD_DEPT_CD</tspan><tspan x="15" dy="8">BRD_LOCK_YN</tspan></text>
<text class="c" x="58" y="16">N-N<tspan x="58" dy="8">N-N</tspan><tspan x="58" dy="8">N-N</tspan><tspan x="58" dy="8">N-N</tspan><tspan x="58" dy="8">N-N</tspan><tspan x="58" dy="8">N-N</tspan><tspan x="58" dy="8">N-N</tspan><tspan x="58" dy="8">N-N</tspan><tspan x="58" dy="8" class="nl">NULL</tspan><tspan x="58" dy="8" class="nl">NULL</tspan><tspan x="58" dy="8" class="nl">NULL</tspan></text>
<text class="c" x="79" y="16">VARCHAR2(50)<tspan x="79" dy="8" class="rd">VARCHAR2(100)</tspan><tspan x="79" dy="8">VARCHAR2(50)</tspan><tspan x="79" dy="8">VARCHAR2(50)</tspan><tspan x="79" dy="8" class="rd">DATE</tspan><tspan x="79" dy="8" class="rd">DATE</tspan><tspan x="79" dy="8">VARCHAR2(50)</tspan><tspan x="79" dy="8" class="rd">NUMBER</tspan><tspan x="79" dy="8">CHAR(1)</tspan><tspan x="79" dy="8">VARCHAR2(50)</tspan><tspan x="79" dy="8">CHAR(1)</tspan></text>
<text class="ttl" x="62" y="13">BOARD</text>
</g>

<g id="BRD_MEM" transform="translate(418,562)">
<rect class="bg" width="124" height="43"/><rect class="pk" y="10" width="124" height="16"/>
<path class="sep" d="M12 10V42M60 10V42M82 10V42"/>
<text class="hd" x="3" y="7">BRD_MEM</text>
<use href="#k" class="kt" x="2" y="10" width="9" height="8"/>
<use href="#k" class="kt" x="2" y="18" width="9" height="8"/>
<use href="#k" class="kf" x="2" y="26" width="9" height="8"/>
<text class="c" x="15" y="16">BRD_CD<tspan x="15" dy="8">EMP_CD</tspan><tspan x="15" dy="8">CO_CD</tspan><tspan x="15" dy="8">BRD_MEM_FAV_YN</tspan></text>
<text class="c" x="62" y="16">N-N<tspan x="62" dy="8">N-N</tspan><tspan x="62" dy="8">N-N</tspan><tspan x="62" dy="8" class="nl">NULL</tspan></text>
<text class="c" x="84" y="16">VARCHAR2(50)<tspan x="84" dy="8">VARCHAR2(50)</tspan><tspan x="84" dy="8">VARCHAR2(50)</tspan><tspan x="84" dy="8">CHAR(1)</tspan></text>
<text class="ttl" x="62" y="13">BRD_MEM</text>
</g>

<g id="ATTACH" transform="translate(254,606)">
<rect class="bg" width="148" height="83"/><rect class="pk" y="10" width="148" height="8"/>
<path class="sep" d="M12 10V82M78 10V82M98 10V82"/>
<text class="hd" x="3" y="7">ATTACH</text>
<use href="#k" class="ky" x="2" y="10" width="9" height="8"/>
<use href="#k" class="kf" x="2" y="42" width="9" height="8"/>
<use href="#k" class="kf" x="2" y="50" width="9" height="8"/>
<use href="#k" class="kf" x="2" y="58" width="9" height="8"/>
<use href="#k" class="kf" x="2" y="74" width="9" height="8"/>
<text class="c" x="15" y="16">ATCH_FILE_CD<tspan x="15" dy="8">ATCH_FILE_NM</tspan><tspan x="15" dy="8">ATCH_FILE_PATH</tspan><tspan x="15" dy="8">ATCH_FILE_DWNLD_TERM</tspan><tspan x="15" dy="8">EMP_CD</tspan><tspan x="15" dy="8">CO_CD</tspan><tspan x="15" dy="8">ATRZ_CD</tspan><tspan x="15" dy="8">EML_CD</tspan><tspan x="15" dy="8">CARD_CD</tspan></text>
<text class="c" x="80" y="16">N-N<tspan x="80" dy="8">N-N</tspan><tspan x="80" dy="8">N-N</tspan><tspan x="80" dy="8">N-N</tspan><tspan x="80" dy="8">N-N</tspan><tspan x="80" dy="8">N-N</tspan><tspan x="80" dy="8" class="nl">NULL</tspan><tspan x="80" dy="8" class="nl">NULL</tspan><tspan x="80" dy="8">N-N</tspan></text>
<text class="c" x="100" y="16"><tspan class="rd">VARCHAR2(300)</tspan><tspan x="100" dy="8" class="rd">VARCHAR2(300)</tspan><tspan x="100" dy="8" class="rd">VARCHAR2(1000)</tspan><tspan x="100" dy="8" class="rd">DATE</tspan><tspan x="100" dy="8">VARCHAR2(50)</tspan><tspan x="100" dy="8">VARCHAR2(50)</tspan><tspan x="100" dy="8">VARCHAR2(50)</tspan><tspan x="100" dy="8">VARCHAR2(50)</tspan><tspan x="100" dy="8">VARCHAR2(50)</tspan></text>
<text class="ttl" x="74" y="13">ATTACH</text>
</g>

<g id="PERSISTENT_LOGINS" transform="translate(286,509)">
<rect class="bg" width="112" height="43"/><rect class="pk" y="10" width="112" height="8"/>
<path class="sep" d="M12 10V42M44 10V42M66 10V42"/>
<text class="hd" x="3" y="7">PERSISTENT_LOGINS</text>
<use href="#k" class="ky" x="2" y="10" width="9" height="8"/>
<text class="c" x="15" y="16">SERIES<tspan x="15" dy="8">TOKEN</tspan><tspan x="15" dy="8">LAST_USED</tspan><tspan x="15" dy="8">USERNAME</tspan></text>
<text class="c" x="46" y="16">N-N<tspan x="46" dy="8">N-N</tspan><tspan x="46" dy="8">N-N</tspan><tspan x="46" dy="8" class="nl">NULL</tspan></text>
<text class="c" x="68" y="16"><tspan class="rd">VARCHAR2(64)</tspan><tspan x="68" dy="8" class="rd">VARCHAR2(64)</tspan><tspan x="68" dy="8" class="rd">TIMESTAMP</tspan><tspan x="68" dy="8">VARCHAR2(50)</tspan></text>
<text class="ttl" x="56" y="13">PERSISTENT_LOGINS</text>
</g>

<g id="CHAT_EMP" transform="translate(226,397)">
<rect class="bg" width="116" height="43"/><rect class="pk" y="10" width="116" height="16"/>
<path class="sep" d="M12 10V42M54 10V42M74 10V42"/>
<text class="hd" x="3" y="7">CHAT_EMP</text>
<use href="#k" class="kt" x="2" y="10" width="9" height="8"/>
<use href="#k" class="kt" x="2" y="18" width="9" height="8"/>
<text class="c" x="15" y="16">CHAT_CD<tspan x="15" dy="8">EMP_CD</tspan><tspan x="15" dy="8">CHAT_ALT_CNT</tspan><tspan x="15" dy="8">CHAT_ALT_DT</tspan></text>
<text class="c" x="56" y="16">N-N<tspan x="56" dy="8">N-N</tspan><tspan x="56" dy="8" class="nl">NULL</tspan><tspan x="56" dy="8" class="nl">NULL</tspan></text>
<text class="c" x="76" y="16">VARCHAR2(50)<tspan x="76" dy="8">VARCHAR2(50)</tspan><tspan x="76" dy="8">NUMBER</tspan><tspan x="76" dy="8">DATE</tspan></text>
<text class="ttl" x="58" y="13">CHAT_EMP</text>
</g>

<g id="CHAT" transform="translate(406,397)">
<rect class="bg" width="100" height="35"/><rect class="pk" y="10" width="100" height="8"/>
<path class="sep" d="M12 10V34M42 10V34M56 10V34"/>
<text class="hd" x="3" y="7">CHAT</text>
<use href="#k" class="ky" x="2" y="10" width="9" height="8"/>
<use href="#k" class="kf" x="2" y="26" width="9" height="8"/>
<text class="c" x="15" y="16">CHAT_CD<tspan x="15" dy="8">CHAT_TTL</tspan><tspan x="15" dy="8">EMP_CD</tspan></text>
<text class="c" x="44" y="16">N-N<tspan x="44" dy="8">N-N</tspan><tspan x="44" dy="8">N-N</tspan></text>
<text class="c" x="58" y="16">VARCHAR2(50)<tspan x="58" dy="8" class="rd">VARCHAR2(100)</tspan><tspan x="58" dy="8">VARCHAR2(50)</tspan></text>
<text class="ttl" x="50" y="13">CHAT</text>
</g>

<g id="CHAT_CN" transform="translate(314,241)">
<rect class="bg" width="136" height="59"/><rect class="pk" y="10" width="136" height="16"/>
<path class="sep" d="M12 10V58M64 10V58M86 10V58"/>
<text class="hd" x="3" y="7">CHAT_CN</text>
<use href="#k" class="ky" x="2" y="10" width="9" height="8"/>
<use href="#k" class="kt" x="2" y="18" width="9" height="8"/>
<use href="#k" class="kf" x="2" y="50" width="9" height="8"/>
<text class="c" x="15" y="16">CHAT_CN_DT<tspan x="15" dy="8">CHAT_CD</tspan><tspan x="15" dy="8">CHAT_CN_CN</tspan><tspan x="15" dy="8">CHAT_CN_IMG_NM</tspan><tspan x="15" dy="8">CHAT_CN_IMG_PATH</tspan><tspan x="15" dy="8">EMP_CD</tspan></text>
<text class="c" x="66" y="16">N-N<tspan x="66" dy="8">N-N</tspan><tspan x="66" dy="8">N-N</tspan><tspan x="66" dy="8">N-N</tspan><tspan x="66" dy="8">N-N</tspan><tspan x="66" dy="8" class="nl">NULL</tspan></text>
<text class="c" x="88" y="16"><tspan class="rd">DATE</tspan><tspan x="88" dy="8">VARCHAR2(50)</tspan><tspan x="88" dy="8" class="rd">VARCHAR2(3000)</tspan><tspan x="88" dy="8">VARCHAR2(50)</tspan><tspan x="88" dy="8">VARCHAR2(50)</tspan><tspan x="88" dy="8">VARCHAR2(50)</tspan></text>
<text class="ttl" x="68" y="13">CHAT_CN</text>
</g>

<g id="ALT" transform="translate(562,373)">
<rect class="bg" width="103" height="59"/><rect class="pk" y="10" width="103" height="8"/>
<path class="sep" d="M12 10V58M40 10V58M58 10V58"/>
<text class="hd" x="3" y="7">ALT</text>
<use href="#k" class="ky" x="2" y="10" width="9" height="8"/>
<use href="#k" class="kf" x="2" y="42" width="9" height="8"/>
<text class="c" x="15" y="16">ALT_CD<tspan x="15" dy="8">ALT_YN</tspan><tspan x="15" dy="8">ALT_DT</tspan><tspan x="15" dy="8">ALT_CN</tspan><tspan x="15" dy="8">EMP_CD</tspan><tspan x="15" dy="8">ALT_URL</tspan></text>
<text class="c" x="42" y="16">N-N<tspan x="42" dy="8">N-N</tspan><tspan x="42" dy="8">N-N</tspan><tspan x="42" dy="8">N-N</tspan><tspan x="42" dy="8">N-N</tspan><tspan x="42" dy="8">N-N</tspan></text>
<text class="c" x="60" y="16"><tspan class="rd">NUMBER</tspan><tspan x="60" dy="8" class="rd">CHAR(1)</tspan><tspan x="60" dy="8" class="rd">DATE</tspan><tspan x="60" dy="8" class="rd">VARCHAR2(1000)</tspan><tspan x="60" dy="8">VARCHAR2(50)</tspan><tspan x="60" dy="8" class="rd">VARCHAR2(300)</tspan></text>
<text class="ttl" x="51.5" y="13">ALT</text>
</g>

<g id="PST_MNG" transform="translate(550,290)">
<rect class="bg" width="107" height="43"/><rect class="pk" y="10" width="107" height="8"/>
<path class="sep" d="M12 10V42M42 10V42M62 10V42"/>
<text class="hd" x="3" y="7">PST_MNG</text>
<use href="#k" class="ky" x="2" y="10" width="9" height="8"/>
<use href="#k" class="kf" x="2" y="26" width="9" height="8"/>
<text class="c" x="15" y="16">PSTBRD_CD<tspan x="15" dy="8">PSTBRD_NM</tspan><tspan x="15" dy="8">CO_CD</tspan><tspan x="15" dy="8">PSTBRD_TYPE</tspan></text>
<text class="c" x="44" y="16">N-N<tspan x="44" dy="8">N-N</tspan><tspan x="44" dy="8">N-N</tspan><tspan x="44" dy="8">N-N</tspan></text>
<text class="c" x="64" y="16">VARCHAR2(50)<tspan x="64" dy="8" class="rd">VARCHAR2(100)</tspan><tspan x="64" dy="8">VARCHAR2(50)</tspan><tspan x="64" dy="8">VARCHAR2(50)</tspan></text>
<text class="ttl" x="53.5" y="13">PST_MNG</text>
</g>

<g id="PST" transform="translate(551,193)">
<rect class="bg" width="122" height="75"/><rect class="pk" y="10" width="122" height="8"/>
<path class="sep" d="M11 10V74M52 10V74M72 10V74"/>
<text class="hd" x="3" y="7">PST</text>
<use href="#k" class="ky" x="2" y="10" width="9" height="8"/>
<use href="#k" class="kf" x="2" y="34" width="9" height="8"/>
<use href="#k" class="kf" x="2" y="58" width="9" height="8"/>
<text class="c" x="14" y="16">PST_CD<tspan x="14" dy="8">PST_TTL_NM</tspan><tspan x="14" dy="8">PST_WRT_DT</tspan><tspan x="14" dy="8">PSTBRD_CD</tspan><tspan x="14" dy="8">PST_CN</tspan><tspan x="14" dy="8">PST_INQ_CNT</tspan><tspan x="14" dy="8">EMP_CD</tspan><tspan x="14" dy="8">PBLR_DEPT_CD</tspan></text>
<text class="c" x="54" y="16">N-N<tspan x="54" dy="8">N-N</tspan><tspan x="54" dy="8">N-N</tspan><tspan x="54" dy="8">N-N</tspan><tspan x="54" dy="8">N-N</tspan><tspan x="54" dy="8">N-N</tspan><tspan x="54" dy="8" class="nl">NULL</tspan><tspan x="54" dy="8" class="nl">NULL</tspan></text>
<text class="c" x="74" y="16">VARCHAR2(50)<tspan x="74" dy="8" class="rd">VARCHAR2(300)</tspan><tspan x="74" dy="8" class="rd">DATE</tspan><tspan x="74" dy="8">VARCHAR2(50)</tspan><tspan x="74" dy="8" class="rd">VARCHAR2(2000)</tspan><tspan x="74" dy="8" class="rd">NUMBER</tspan><tspan x="74" dy="8">VARCHAR2(50)</tspan><tspan x="74" dy="8">VARCHAR2(50)</tspan></text>
<text class="ttl" x="61" y="13">PST</text>
</g>

<g id="CMNT" transform="translate(538,118)">
<rect class="bg" width="120" height="59"/><rect class="pk" y="10" width="120" height="8"/>
<path class="sep" d="M12 10V58M54 10V58M74 10V58"/>
<text class="hd" x="3" y="7">CMNT</text>
<use href="#k" class="ky" x="2" y="10" width="9" height="8"/>
<use href="#k" class="kf" x="2" y="34" width="9" height="8"/>
<use href="#k" class="kf" x="2" y="42" width="9" height="8"/>
<text class="c" x="15" y="16">CMNT_CD<tspan x="15" dy="8">CMNT_WRT_DT</tspan><tspan x="15" dy="8">CMNT_CN</tspan><tspan x="15" dy="8">PST_CD</tspan><tspan x="15" dy="8">EMP_CD</tspan><tspan x="15" dy="8">CMNT_CNT</tspan></text>
<text class="c" x="56" y="16">N-N<tspan x="56" dy="8">N-N</tspan><tspan x="56" dy="8">N-N</tspan><tspan x="56" dy="8">N-N</tspan><tspan x="56" dy="8" class="nl">NULL</tspan><tspan x="56" dy="8" class="nl">NULL</tspan></text>
<text class="c" x="76" y="16">VARCHAR2(50)<tspan x="76" dy="8" class="rd">DATE</tspan><tspan x="76" dy="8" class="rd">VARCHAR2(500)</tspan><tspan x="76" dy="8">VARCHAR2(50)</tspan><tspan x="76" dy="8">VARCHAR2(50)</tspan><tspan x="76" dy="8">NUMBER</tspan></text>
<text class="ttl" x="60" y="13">CMNT</text>
</g>

<g id="minimap">
<rect x="1360" y="726" width="160" height="111" fill="#0d0d0d"/>
<rect x="1364" y="730" width="152" height="103" fill="#4f4f4f"/>
<g fill="#b9b569">
<rect x="1424" y="731" width="7" height="3"/><rect x="1454" y="731" width="12" height="4"/><rect x="1470" y="731" width="6" height="3"/><rect x="1501" y="730" width="15" height="13"/><rect x="1369" y="754" width="17" height="15"/><rect x="1364" y="773" width="3" height="6"/><rect x="1364" y="804" width="5" height="2"/>
</g>
<rect x="1398" y="745" width="99" height="56" fill="#3d3d3d"/>
<g class="mm">
<rect x="1444.4" y="745.7" width="8.4" height="9.5"/><rect x="1456" y="747.7" width="8.4" height="3.3"/><rect x="1465.5" y="749.8" width="7.6" height="3.3"/><rect x="1472.2" y="753.6" width="9.5" height="3.8"/><rect x="1472.2" y="759.4" width="9.3" height="2.8"/><rect x="1472.2" y="763.9" width="7.4" height="2.2"/><rect x="1471.9" y="767.6" width="7.7" height="3.8"/><rect x="1457.6" y="756" width="8.9" height="8"/><rect x="1445" y="761" width="8.1" height="3.8"/><rect x="1445.4" y="766.5" width="8.8" height="7.5"/><rect x="1445.2" y="774.6" width="8.5" height="9.6"/><rect x="1432.6" y="752.7" width="7.7" height="3.8"/><rect x="1433.4" y="757.6" width="7.8" height="4.9"/><rect x="1433.4" y="763.9" width="6.9" height="2.8"/><rect x="1418.2" y="760.7" width="8.7" height="3.9"/><rect x="1412.5" y="770.9" width="7.5" height="2.8"/><rect x="1424.1" y="770.9" width="6.4" height="2.3"/><rect x="1434.1" y="769.4" width="6.6" height="3.9"/><rect x="1416.4" y="778.2" width="7.2" height="2.8"/><rect x="1424.9" y="781.7" width="8" height="2.8"/><rect x="1414.3" y="784.6" width="9.5" height="5.4"/><rect x="1426.2" y="787.9" width="7.7" height="3.3"/><rect x="1434.9" y="783.5" width="8" height="6.5"/><rect x="1428" y="792.3" width="8.5" height="6.5"/><rect x="1418.2" y="793.1" width="8.7" height="3.3"/><rect x="1442.6" y="791.8" width="8.7" height="4.9"/><rect x="1454.7" y="794.4" width="8.7" height="3.3"/><rect x="1458.8" y="787.9" width="8.4" height="3.9"/><rect x="1468.9" y="789" width="7.4" height="2.8"/><rect x="1465.5" y="783.7" width="7.2" height="2.8"/><rect x="1462.9" y="780.3" width="6.9" height="2.3"/><rect x="1474.3" y="781.1" width="8.5" height="6.5"/><rect x="1476.3" y="772" width="8.5" height="6.5"/><rect x="1458.6" y="768.1" width="7.9" height="4.9"/><rect x="1463.7" y="774.3" width="7.2" height="1.8"/>
</g>
<rect x="1398" y="745" width="99" height="56" fill="none" stroke="#c42a2a" stroke-width="1.3"/>
</g>
</svg>
